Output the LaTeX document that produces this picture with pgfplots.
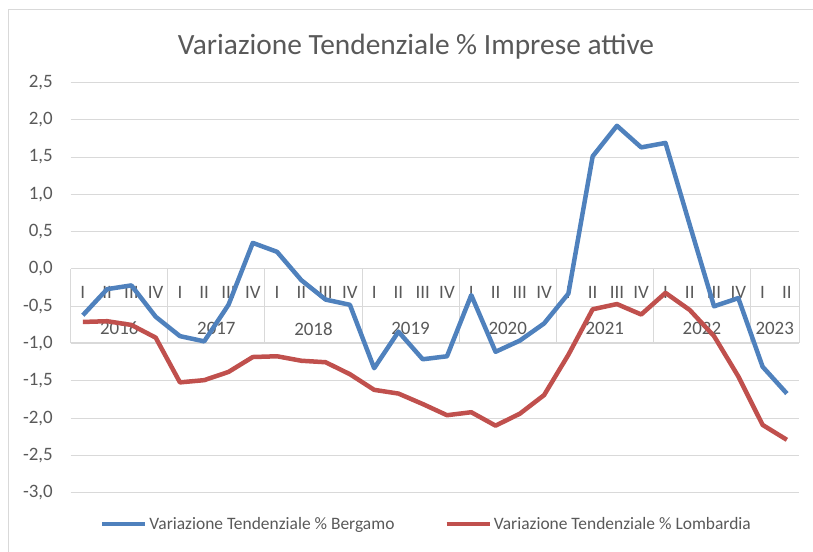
\documentclass[border=0pt]{standalone}
\usepackage{pgfplots}
\pgfplotsset{compat=1.18}
\usepackage{fontspec}
\setmainfont{Carlito}
\definecolor{bgblue}{HTML}{4F81BD}
\definecolor{lomred}{HTML}{C0504D}
\definecolor{txt}{HTML}{595959}
\definecolor{grd}{HTML}{D9D9D9}
\begin{document}
\begin{tikzpicture}[x=1bp,y=1bp]
\useasboundingbox (-70.7,-59.2) rectangle (742.3,492.8);
\draw[grd, line width=1bp] (-61.7,-90) -- (-61.7,482.8) -- (780,482.8);
\node[txt, font=\fontsize{29.5}{34}\selectfont] at (345.3,445.8) {Variazione Tendenziale \% Imprese attive};
\begin{axis}[
  at={(0,0)}, anchor=south west,
  scale only axis, width=728.3bp, height=410.3bp,
  xmin=-0.5, xmax=29.5, ymin=-3, ymax=2.5,
  xtick=\empty,
  ytick={-3,-2.5,...,2.5},
  ymajorgrids, grid style={grd, line width=1bp},
  axis line style={draw=none},
  major tick length=0pt,
  clip=false,
  /pgf/number format/assume math mode=true,
  yticklabel style={/pgf/number format/.cd, fixed, fixed zerofill, precision=1, use comma, /tikz/.cd,
     font=\fontsize{19}{22}\selectfont, text=txt, anchor=east, inner sep=0pt, xshift=-17.7bp},
  legend columns=2,
  legend style={at={(29.3bp,-31.2bp)}, anchor=west, draw=none, fill=none,
     font=\fontsize{17.5}{20}\selectfont, text=txt, inner sep=0pt, outer sep=0pt,
     nodes={inner sep=0pt},
     /tikz/every odd column/.append style={column sep=2bp},
     /tikz/every even column/.append style={column sep=50bp}},
  legend image code/.code={\draw[#1] (0bp,0bp) -- (43bp,0bp);},
]
% category box
\draw[grd, line width=1bp] (axis cs:-0.5,-0.99) -- (axis cs:29.5,-0.99);
\pgfplotsinvokeforeach{-0.5,3.5,7.5,11.5,15.5,19.5,23.5,27.5,29.5}{
  \draw[grd, line width=1bp] (axis cs:#1,0) -- (axis cs:#1,-0.99);
}
\foreach \q [count=\i from 0] in {I,II,III,IV,I,II,III,IV,I,II,III,IV,I,II,III,IV,I,II,III,IV,I,II,III,IV,I,II,III,IV,I,II}{
  \edef\temp{\noexpand\node[txt, font=\noexpand\fontsize{19}{22}\noexpand\selectfont] at (axis cs:\i,-0.32) {\q};}
  \temp
}
\foreach \yy/\xc in {2016/1.5,2017/5.5,2018/9.5,2019/13.5,2020/17.5,2021/21.5,2022/25.5,2023/28.5}{
  \edef\temp{\noexpand\node[txt, font=\noexpand\fontsize{19}{22}\noexpand\selectfont] at (axis cs:\xc,-0.80) {\yy};}
  \temp
}
\addplot[bgblue, line width=4.5bp, line join=round] coordinates {
(0,-0.62) (1,-0.27) (2,-0.22) (3,-0.64) (4,-0.90) (5,-0.97) (6,-0.48) (7,0.35)
(8,0.23) (9,-0.15) (10,-0.41) (11,-0.48) (12,-1.33) (13,-0.84) (14,-1.21) (15,-1.17)
(16,-0.35) (17,-1.11) (18,-0.96) (19,-0.73) (20,-0.33) (21,1.51) (22,1.92) (23,1.63)
(24,1.69) (25,0.59) (26,-0.50) (27,-0.39) (28,-1.31) (29,-1.67)
};
\addlegendentry{Variazione Tendenziale \% Bergamo}
\addplot[lomred, line width=4.5bp, line join=round] coordinates {
(0,-0.71) (1,-0.70) (2,-0.75) (3,-0.92) (4,-1.52) (5,-1.49) (6,-1.38) (7,-1.18)
(8,-1.17) (9,-1.23) (10,-1.25) (11,-1.41) (12,-1.62) (13,-1.67) (14,-1.81) (15,-1.96)
(16,-1.92) (17,-2.10) (18,-1.94) (19,-1.69) (20,-1.15) (21,-0.54) (22,-0.47) (23,-0.61)
(24,-0.32) (25,-0.55) (26,-0.90) (27,-1.44) (28,-2.09) (29,-2.29)
};
\addlegendentry{Variazione Tendenziale \% Lombardia}
\end{axis}
\end{tikzpicture}
\end{document}
